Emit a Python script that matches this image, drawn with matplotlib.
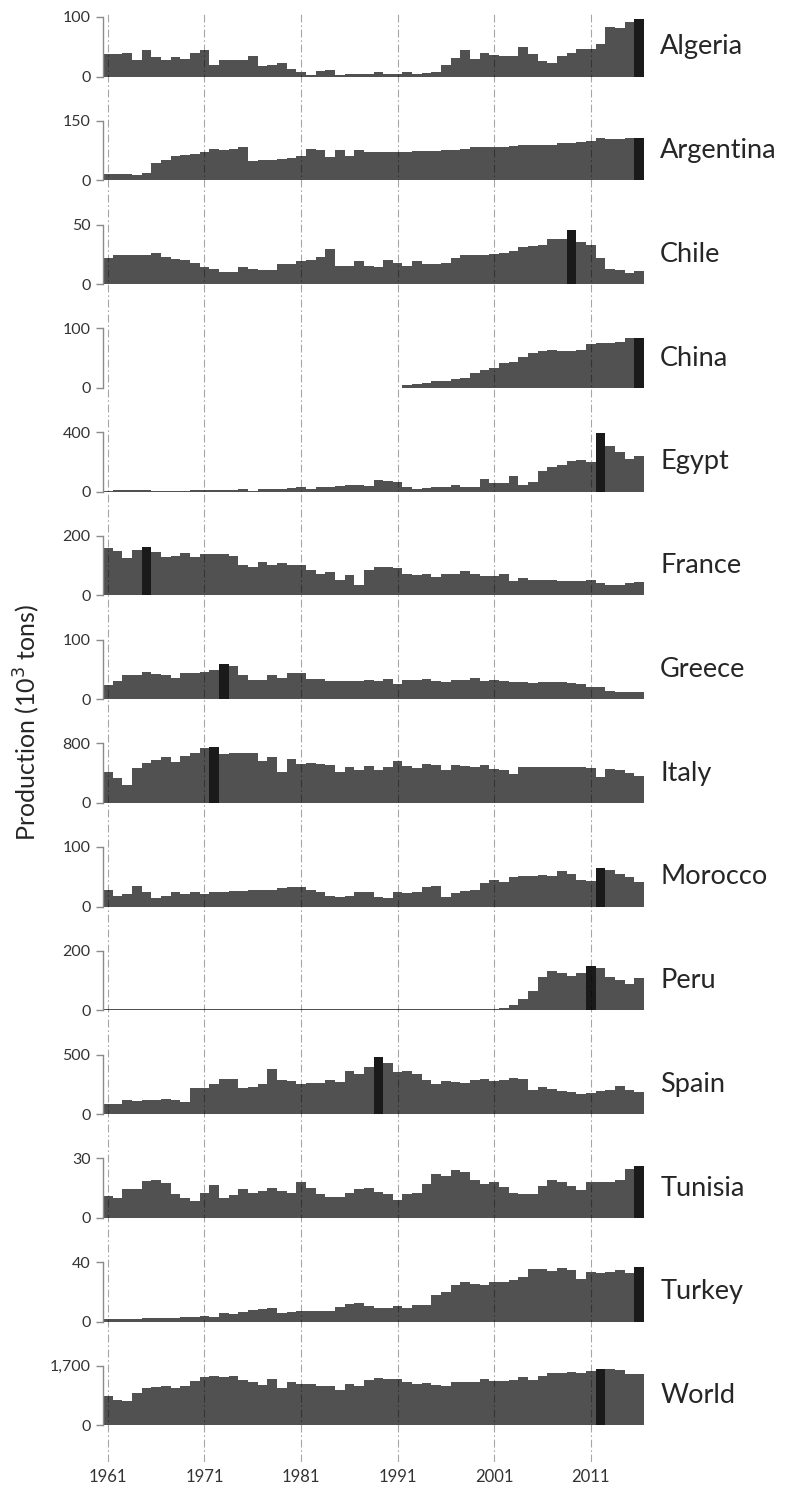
import matplotlib
matplotlib.use("Agg")
import matplotlib.pyplot as plt

plt.rcParams['font.family'] = ['Lato', 'DejaVu Sans']

years = list(range(1961, 2017))

countries = ["Algeria", "Argentina", "Chile", "China", "Egypt", "France", "Greece",
             "Italy", "Morocco", "Peru", "Spain", "Tunisia", "Turkey", "World"]

algeria = [38, 37, 40, 27, 44, 32, 27, 32, 30, 39, 45, 19, 28, 28, 27, 34, 17, 20, 22, 13,
           8, 3, 9, 11, 3, 4, 5, 5, 7, 5, 4, 8, 4, 6, 8, 19, 31, 45, 30, 40,
           36, 34, 34, 50, 37, 26, 23, 34, 40, 47, 47, 55, 84, 81, 92, 97]
argentina = [16, 16, 15, 12, 19, 43, 51, 61, 64, 66, 70, 80, 75, 80, 83, 48, 50, 52, 54, 57,
             61, 79, 76, 59, 76, 61, 76, 70, 70, 71, 71, 72, 73, 74, 74, 75, 77, 80, 84, 83,
             84, 85, 87, 89, 90, 90, 89, 94, 95, 97, 100, 106, 105, 105, 106, 107]
chile = [22, 24, 24, 24, 24, 26, 23, 21, 20, 18, 14, 13, 10, 10, 14, 13, 12, 12, 17, 17,
         19, 20, 23, 29, 15, 15, 19, 15, 14, 20, 18, 15, 19, 17, 17, 18, 22, 24, 24, 24,
         25, 26, 28, 31, 32, 33, 38, 38, 45, 35, 33, 22, 13, 12, 9, 11]
china = [0] * 31 + [4.5, 7, 8.5, 11, 12, 14, 17, 25, 29, 34, 41, 44, 51, 58, 61, 64, 62, 62,
                    63, 74, 76, 76, 77, 83, 84]
egypt = [4, 7, 11, 9, 9, 4, 4, 4, 2, 7, 7, 11, 7, 7, 16, 1, 18, 18, 18, 22,
         27, 20, 27, 31, 36, 43, 45, 38, 74, 70, 63, 31, 20, 22, 31, 27, 45, 31, 31, 81,
         56, 56, 101, 43, 63, 139, 166, 175, 207, 211, 200, 391, 308, 265, 220, 236]
france = [160, 148, 124, 152, 163, 144, 127, 133, 141, 127, 137, 137, 137, 131, 102, 96, 112, 101, 110, 102,
          101, 86, 72, 78, 51, 69, 36, 86, 96, 94, 90, 71, 68, 70, 63, 72, 72, 83, 73, 64,
          64, 70, 49, 58, 50, 51, 50, 49, 49, 47, 50, 41, 36, 36, 41, 43]
greece = [24, 30, 41, 40, 46, 42, 40, 36, 43, 43, 45, 48, 59, 55, 41, 32, 32, 41, 36, 44,
          43, 33, 33, 30, 31, 30, 30, 32, 30, 33, 26, 32, 32, 33, 31, 28, 32, 32, 35, 31,
          32, 31, 28, 29, 27, 28, 28, 28, 27, 25, 20, 20, 14, 11, 12, 12]
italy = [409, 330, 235, 465, 530, 574, 617, 548, 630, 670, 730, 743, 652, 674, 665, 665, 561, 613, 409, 587,
         517, 539, 522, 504, 409, 487, 439, 491, 439, 478, 557, 500, 465, 517, 504, 439, 509, 500, 478, 509,
         452, 435, 383, 478, 474, 474, 474, 478, 478, 478, 465, 352, 452, 443, 396, 361]
morocco = [27, 18, 21, 35, 24, 14, 18, 24, 21, 24, 21, 24, 24, 26, 26, 27, 28, 28, 31, 32,
           32, 28, 24, 18, 16, 18, 24, 24, 16, 15, 24, 22, 24, 33, 34, 16, 22, 26, 27, 40,
           44, 42, 49, 52, 52, 53, 51, 59, 55, 44, 43, 64, 61, 54, 49, 42]
peru = [3, 3, 3, 3, 3, 3, 5, 5, 3, 3, 3, 3, 3, 3, 3, 3, 3, 3, 3, 3,
        3, 3, 3, 3, 3, 3, 3, 3, 3, 3, 3, 3, 3, 3, 3, 4, 3, 3, 3, 4,
        5, 7, 17, 39, 64, 111, 132, 125, 114, 125, 150, 142, 111, 102, 87, 107]
spain = [85, 85, 121, 107, 121, 121, 126, 115, 102, 217, 217, 250, 297, 297, 217, 228, 250, 376, 288, 280,
         250, 258, 258, 283, 272, 360, 332, 396, 475, 426, 357, 360, 335, 283, 250, 275, 269, 264, 286, 291,
         277, 283, 305, 297, 198, 225, 214, 195, 187, 165, 179, 190, 198, 234, 198, 181]
tunisia = [11, 10.2, 14.3, 14.3, 18.5, 19, 17.5, 11.9, 10.2, 8.4, 12.7, 16.6, 10.2, 11.5, 14.3, 12.7, 13.7, 14.8, 13.7, 12.7,
           17.8, 14.8, 11.9, 10.7, 10.7, 12.7, 14.5, 14.8, 13.2, 11.9, 8.7, 11.9, 12.7, 17, 22, 21, 24, 23, 19, 17,
           17.8, 15.3, 12.7, 11.9, 11.9, 15.8, 18.8, 17.8, 15.8, 14.2, 17.8, 17.8, 17.8, 18.8, 24.4, 25.9]
turkey = [1.8, 1.8, 1.8, 1.8, 2.4, 2.4, 2.4, 2.4, 2.9, 2.9, 4, 3.3, 5.7, 5, 6.6, 7.5, 8.1, 8.8, 5.5, 6.2,
          6.8, 7, 7.3, 7.3, 9.5, 12, 12.7, 10.5, 8.8, 9.2, 10.5, 9.2, 11.2, 11.2, 17.6, 19.8, 24.4, 26.4, 25.5, 24.4,
          26.6, 26.6, 27.7, 29.9, 35.6, 35.2, 33.8, 36.3, 34.7, 28.8, 33.4, 32.3, 33.6, 34.5, 32.5, 36.8]
world = [831, 727, 680, 935, 1058, 1086, 1133, 1067, 1133, 1265, 1379, 1398, 1379, 1398, 1284, 1247, 1143, 1322, 1077, 1247,
         1171, 1171, 1124, 1124, 1020, 1171, 1124, 1284, 1360, 1331, 1331, 1247, 1190, 1199, 1152, 1114, 1247, 1247, 1247, 1322,
         1256, 1256, 1284, 1379, 1284, 1416, 1483, 1492, 1511, 1492, 1539, 1615, 1610, 1577, 1454, 1454]

series = [algeria, argentina, chile, china, egypt, france, greece,
          italy, morocco, peru, spain, tunisia, turkey, world]
peak_years = [2016, 2016, 2009, 2016, 2012, 1965, 1973, 1972, 2012, 2011, 1989, 2016, 2016, 2012]
y_tops = [100, 150, 50, 100, 400, 200, 100, 800, 100, 200, 500, 30, 40, 1700]
y_top_labels = ["100", "150", "50", "100", "400", "200", "100", "800", "100", "200", "500", "30", "40", "1,700"]
decade_years = [1961, 1971, 1981, 1991, 2001, 2011]

W, H = 794, 1494
fig = plt.figure(figsize=(W / 100, H / 100), dpi=100)

x0_px, x1_px = 103, 644
left = x0_px / W
width = (x1_px - x0_px) / W

BAR = '#515151'
PEAK = '#1a1a1a'
TXT = '#333333'

for i, (name, vals, peak, top, toplab) in enumerate(zip(countries, series, peak_years, y_tops, y_top_labels)):
    top_px = 17 + 103.75 * i
    zero_px = top_px + 59.5
    ax = fig.add_axes([left, 1 - zero_px / H, width, (zero_px - top_px) / H])
    colors = [PEAK if y == peak else BAR for y in years]
    ax.bar(years, vals, width=1.0, color=colors, edgecolor='none', linewidth=0)
    ax.set_xlim(1960.5, 2016.5)
    ax.set_ylim(0, top)
    ax.set_yticks([0, top])
    ax.set_yticklabels(["0", toplab])
    ax.set_xticks([])
    ax.patch.set_alpha(0)
    for s in ['top', 'right', 'bottom']:
        ax.spines[s].set_visible(False)
    ax.spines['left'].set_color('#8a8a8a')
    ax.spines['left'].set_linewidth(1.0)
    ax.tick_params(axis='y', direction='out', length=5, width=1.0, color='#8a8a8a',
                   labelsize=11.5, labelcolor=TXT, pad=4)
    ax.text(1.03, 0.5, name, transform=ax.transAxes, ha='left', va='center',
            fontsize=19.5, color='#262626')

# overlay with dashed decade lines and year labels
ov_top, ov_bot = 12, 1462
ov = fig.add_axes([left, 1 - ov_bot / H, width, (ov_bot - ov_top) / H])
ov.patch.set_alpha(0)
ov.set_xlim(1960.5, 2016.5)
ov.set_ylim(0, 1)
for s in ov.spines.values():
    s.set_visible(False)
ov.set_yticks([])
for yr in decade_years:
    ov.axvline(yr, color='black', alpha=0.35, linewidth=0.8, linestyle=(0, (7, 2.5, 1.5, 2.5)))
ov.set_xticks(decade_years)
ov.set_xticklabels([str(y) for y in decade_years])
ov.tick_params(axis='x', length=0, labelsize=12, labelcolor=TXT, pad=5)

fig.text(27 / W, 1 - 722 / H, "Production (10$^3$ tons)", rotation=90, ha='center', va='center',
         fontsize=18, color='#262626')

fig.savefig("out.png", dpi=100)
